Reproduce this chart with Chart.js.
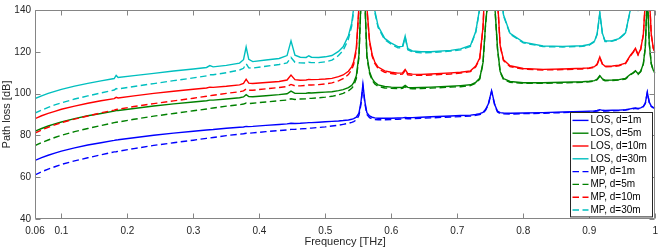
<!DOCTYPE html>
<html>
<head>
<meta charset="utf-8">
<script src="https://cdn.jsdelivr.net/npm/chart.js@4.4.1/dist/chart.umd.min.js"></script>
<style>
  html, body { margin: 0; padding: 0; background: #ffffff; }
  #wrap { width: 664px; height: 249px; }
</style>
</head>
<body>
<div id="wrap"><canvas id="chart" width="664" height="249"></canvas></div>
<script>
'use strict';

// frequency samples [THz], denser around the absorption lines
const FREQ = [
  0.06, 0.07, 0.08, 0.09, 0.10, 0.12, 0.14, 0.16, 0.18, 0.183,
  0.186, 0.21, 0.24, 0.27, 0.30, 0.32, 0.325, 0.33, 0.35, 0.37,
  0.376, 0.38, 0.384, 0.39, 0.41, 0.43, 0.442, 0.448, 0.454, 0.462,
  0.471, 0.475, 0.479, 0.49, 0.50, 0.51, 0.52, 0.527, 0.535, 0.54,
  0.543, 0.547, 0.551, 0.554, 0.557, 0.56, 0.563, 0.567, 0.571, 0.575,
  0.58, 0.59, 0.60, 0.61, 0.617, 0.621, 0.625, 0.632, 0.645, 0.66,
  0.69, 0.705, 0.72, 0.728, 0.734, 0.739, 0.743, 0.747, 0.752, 0.757,
  0.761, 0.765, 0.77, 0.78, 0.80, 0.83, 0.86, 0.89, 0.90, 0.908,
  0.912, 0.916, 0.92, 0.924, 0.935, 0.945, 0.955, 0.962, 0.967, 0.97,
  0.974, 0.978, 0.982, 0.985, 0.988, 0.991, 0.994, 0.997, 1.0
];

// path loss [dB], line of sight
const LOS_1M = [
  68.0, 69.4, 70.5, 71.5, 72.5, 74.0, 75.4, 76.5, 77.6, 77.8,
  77.9, 78.9, 80.1, 81.1, 82.0, 82.6, 82.7, 82.8, 83.4, 83.9,
  84.0, 84.3, 84.2, 84.3, 84.8, 85.2, 85.5, 85.8, 85.7, 85.8,
  86.0, 86.1, 86.1, 86.3, 86.5, 86.7, 86.9, 87.1, 87.4, 87.7,
  88.0, 88.7, 90.7, 95.9, 104.4, 96.0, 90.9, 89.3, 88.7, 88.4,
  88.2, 88.2, 88.2, 88.3, 88.4, 88.6, 88.5, 88.5, 88.7, 88.9,
  89.3, 89.5, 89.7, 90.0, 90.4, 91.0, 92.5, 95.0, 101.4, 94.5,
  91.6, 90.9, 90.7, 90.6, 90.7, 90.9, 91.2, 91.5, 91.6, 91.7,
  91.9, 92.3, 92.0, 91.9, 92.0, 92.1, 92.3, 92.7, 93.0, 93.1,
  92.9, 93.2, 93.9, 95.5, 100.7, 95.9, 94.0, 93.4, 93.2
];
const LOS_5M = [
  82.0, 83.3, 84.5, 85.5, 86.4, 88.0, 89.4, 90.5, 91.6, 91.9,
  91.9, 92.9, 94.1, 95.1, 96.0, 96.6, 96.9, 96.9, 97.4, 98.0,
  98.4, 99.5, 98.6, 98.5, 99.0, 99.5, 99.9, 101.2, 100.1, 100.1,
  100.2, 100.4, 100.3, 100.5, 100.7, 100.9, 101.4, 101.9, 102.9, 103.9,
  105.2, 108.5, 118.6, 144.1, 160, 144.4, 118.4, 110.5, 107.1, 105.4,
  104.2, 103.4, 103.1, 102.9, 103.0, 103.9, 103.0, 102.8, 102.9, 103.1,
  103.5, 103.8, 104.2, 105.4, 107.3, 114.8, 133.9, 146.4, 160, 141.5,
  121.6, 110.6, 107.2, 105.8, 105.2, 105.2, 105.4, 105.7, 105.9, 106.2,
  106.9, 108.6, 107.0, 106.4, 106.5, 106.7, 107.3, 109.1, 110.1, 110.9,
  109.5, 110.7, 114.3, 122.3, 147.8, 123.9, 114.4, 111.2, 109.9
];
const LOS_10M = [
  88.0, 89.4, 90.5, 91.5, 92.5, 94.0, 95.4, 96.6, 97.6, 98.2,
  97.9, 98.9, 100.1, 101.1, 102.1, 102.7, 103.1, 103.0, 103.5, 104.2,
  104.9, 106.9, 105.0, 104.8, 105.3, 105.8, 106.5, 108.9, 106.7, 106.4,
  106.5, 106.8, 106.7, 106.8, 107.0, 107.3, 108.1, 108.9, 110.7, 112.8,
  115.3, 121.8, 141.9, 160, 160, 160, 141.5, 125.5, 118.6, 115.1,
  112.7, 110.9, 110.2, 109.8, 109.9, 111.5, 109.6, 109.3, 109.2, 109.4,
  109.9, 110.2, 110.9, 113.2, 117.0, 131.8, 160, 160, 160, 160,
  145.1, 123.1, 116.2, 113.3, 112.0, 111.6, 111.8, 112.1, 112.3, 112.9,
  114.2, 117.5, 114.2, 113.1, 113.2, 113.6, 114.6, 118.1, 120.2, 121.7,
  118.7, 121.3, 128.3, 144.3, 160, 147.4, 128.4, 121.9, 119.5
];
const LOS_30M = [
  97.6, 98.9, 100.1, 101.1, 102.0, 103.6, 104.9, 106.1, 107.2, 108.7,
  107.7, 108.6, 109.7, 110.8, 111.8, 112.5, 113.4, 112.8, 113.5, 114.6,
  116.2, 122.3, 116.4, 115.3, 116.1, 116.8, 118.2, 125.2, 118.4, 117.4,
  117.3, 118.1, 117.4, 117.3, 117.6, 118.2, 120.2, 122.4, 127.7, 133.7,
  141.0, 160, 160, 160, 160, 160, 160, 160, 150.1, 139.7,
  132.3, 126.4, 124.1, 122.5, 122.6, 127.5, 121.5, 120.4, 120.0, 120.0,
  120.7, 121.4, 123.0, 129.7, 140.9, 160, 160, 160, 160, 160,
  160, 158.7, 137.7, 128.8, 124.6, 122.8, 122.6, 122.9, 123.5, 125.1,
  128.7, 138.6, 128.8, 125.2, 125.3, 126.3, 129.1, 139.7, 145.7, 150.2,
  141.3, 148.8, 160, 160, 160, 160, 160, 150.5, 143.0
];

// path loss [dB], multipath
const MP_1M = [
  61.1, 62.6, 63.9, 65.0, 66.1, 67.8, 69.3, 70.7, 72.1, 72.2,
  72.4, 73.7, 75.2, 76.5, 77.7, 78.6, 78.8, 79.0, 79.9, 80.6,
  80.8, 81.0, 81.0, 81.2, 81.8, 82.3, 82.6, 82.9, 82.9, 83.1,
  83.3, 83.5, 83.5, 83.8, 84.1, 84.5, 84.9, 85.3, 85.8, 86.2,
  86.6, 87.4, 89.6, 94.8, 103.4, 95.1, 90.0, 88.5, 87.9, 87.6,
  87.5, 87.5, 87.6, 87.7, 87.9, 88.1, 88.0, 88.0, 88.2, 88.4,
  88.8, 89.0, 89.3, 89.6, 90.0, 90.6, 92.1, 94.6, 101.0, 94.1,
  91.2, 90.5, 90.3, 90.2, 90.4, 90.6, 90.9, 91.2, 91.3, 91.5,
  91.6, 92.0, 91.7, 91.6, 91.8, 91.9, 92.1, 92.5, 92.7, 92.9,
  92.7, 93.0, 93.7, 95.3, 100.5, 95.7, 93.8, 93.2, 93.0
];
const MP_5M = [
  75.1, 76.6, 77.8, 79.0, 80.0, 81.8, 83.3, 84.7, 86.1, 86.3,
  86.4, 87.7, 89.2, 90.5, 91.8, 92.6, 92.9, 93.1, 94.0, 94.7,
  95.0, 95.5, 95.2, 95.4, 96.0, 96.6, 96.9, 97.5, 97.2, 97.4,
  97.5, 97.7, 97.7, 98.0, 98.3, 98.7, 99.4, 100.1, 101.3, 102.5,
  103.8, 107.2, 117.4, 143.1, 160, 143.4, 117.5, 109.7, 106.3, 104.6,
  103.5, 102.7, 102.5, 102.4, 102.5, 103.3, 102.4, 102.3, 102.4, 102.6,
  103.1, 103.3, 103.8, 105.0, 106.9, 114.4, 133.5, 146.0, 160, 141.1,
  121.2, 110.2, 106.8, 105.4, 104.9, 104.9, 105.1, 105.4, 105.6, 106.0,
  106.6, 108.3, 106.7, 106.1, 106.3, 106.5, 107.0, 108.9, 109.9, 110.7,
  109.2, 110.5, 114.1, 122.1, 147.6, 123.7, 114.2, 111.0, 109.7
];
const MP_10M = [
  81.1, 82.6, 83.9, 85.0, 86.1, 87.8, 89.3, 90.8, 92.1, 92.4,
  92.5, 93.8, 95.2, 96.5, 97.8, 98.7, 99.0, 99.2, 100.1, 100.9,
  101.3, 102.2, 101.6, 101.6, 102.3, 102.9, 103.4, 104.4, 103.7, 103.7,
  103.9, 104.1, 104.1, 104.3, 104.6, 105.1, 106.1, 107.1, 109.1, 111.4,
  113.9, 120.6, 140.7, 160, 160, 160, 140.6, 124.7, 117.8, 114.4,
  112.0, 110.2, 109.6, 109.2, 109.3, 111.0, 109.0, 108.7, 108.7, 108.9,
  109.4, 109.8, 110.5, 112.8, 116.6, 131.4, 160, 160, 160, 160,
  144.7, 122.7, 115.8, 112.9, 111.7, 111.3, 111.5, 111.8, 112.1, 112.6,
  113.9, 117.2, 114.0, 112.8, 112.9, 113.3, 114.3, 117.9, 119.9, 121.5,
  118.5, 121.1, 128.1, 144.1, 160, 147.2, 128.2, 121.7, 119.3
];
const MP_30M = [
  90.7, 92.1, 93.4, 94.6, 95.6, 97.4, 98.9, 100.3, 101.7, 102.4,
  102.2, 103.4, 104.8, 106.2, 107.5, 108.5, 109.0, 109.0, 110.0, 111.3,
  112.1, 114.3, 112.3, 112.2, 113.1, 113.9, 114.7, 117.3, 115.0, 114.7,
  114.6, 115.0, 114.8, 114.8, 115.2, 116.0, 118.2, 120.6, 126.1, 132.3,
  139.6, 159.3, 160, 160, 160, 160, 160, 160, 149.3, 138.9,
  131.6, 125.8, 123.6, 121.9, 122.0, 126.9, 121.0, 119.9, 119.5, 119.6,
  120.3, 120.9, 122.6, 129.3, 140.5, 160, 160, 160, 160, 160,
  160, 158.3, 137.3, 128.5, 124.3, 122.5, 122.3, 122.6, 123.2, 124.8,
  128.4, 138.4, 128.5, 124.9, 125.1, 126.1, 128.9, 139.4, 145.5, 150.0,
  141.1, 148.6, 160, 160, 160, 160, 160, 150.3, 142.8
];

const SERIES_LABELS = [
  'LOS, d=1m', 'LOS, d=5m', 'LOS, d=10m', 'LOS, d=30m',
  'MP, d=1m', 'MP, d=5m', 'MP, d=10m', 'MP, d=30m'
];
const SERIES_VALUES = [LOS_1M, LOS_5M, LOS_10M, LOS_30M, MP_1M, MP_5M, MP_10M, MP_30M];

const X_TICKS = [0.06, 0.1, 0.2, 0.3, 0.4, 0.5, 0.6, 0.7, 0.8, 0.9, 1];
const Y_TICKS = [40, 60, 80, 100, 120, 140];

// MATLAB-ish palette: b, g, r, c
const COLORS = ['#0000FF', '#008000', '#FF0000', '#00BFBF'];
const DASH = [6.5, 3.5];
const FONT = '"Liberation Sans", Arial, Helvetica, sans-serif';
const TEXT_COLOR = '#262626';
const AXIS_COLOR = '#858585';
const TICK_LEN = 5;

// box around the plot with inward ticks on all four sides
const axesBox = {
  id: 'axesBox',
  afterDatasetsDraw(chart) {
    const { ctx, chartArea, scales: { x, y } } = chart;
    const l = Math.round(chartArea.left) + 0.5;
    const r = Math.round(chartArea.right) - 0.5;
    const t = Math.round(chartArea.top) + 0.5;
    const b = Math.round(chartArea.bottom) - 0.5;

    ctx.save();
    ctx.strokeStyle = AXIS_COLOR;
    ctx.lineWidth = 1;
    ctx.beginPath();
    ctx.rect(l, t, r - l, b - t);
    X_TICKS.forEach(v => {
      const px = Math.round(x.getPixelForValue(v)) + 0.5;
      ctx.moveTo(px, b); ctx.lineTo(px, b - TICK_LEN);
      ctx.moveTo(px, t); ctx.lineTo(px, t + TICK_LEN);
    });
    Y_TICKS.forEach(v => {
      const py = Math.round(y.getPixelForValue(v)) + 0.5;
      ctx.moveTo(l, py); ctx.lineTo(l + TICK_LEN, py);
      ctx.moveTo(r, py); ctx.lineTo(r - TICK_LEN, py);
    });
    ctx.stroke();
    ctx.restore();
  },
};

// legend inset in the lower right corner of the plot
const insetLegend = {
  id: 'insetLegend',
  afterDraw(chart) {
    const { ctx, chartArea } = chart;
    const sets = chart.data.datasets;
    const rowH = 12.8;
    const w = 82;
    const h = rowH * sets.length + 2;
    const x0 = Math.round(chartArea.right - 3 - w) + 0.5;
    const y0 = Math.round(chartArea.bottom - 3 - h) + 0.5;

    ctx.save();
    ctx.fillStyle = '#ffffff';
    ctx.fillRect(x0, y0, w, h);
    ctx.strokeStyle = '#262626';
    ctx.lineWidth = 1;
    ctx.strokeRect(x0, y0, w, h);

    ctx.font = '10px ' + FONT;
    ctx.textBaseline = 'middle';
    ctx.textAlign = 'left';
    sets.forEach((ds, i) => {
      const cy = y0 + 1.5 + rowH * (i + 0.5);
      ctx.strokeStyle = ds.borderColor;
      ctx.lineWidth = ds.borderWidth;
      ctx.setLineDash(ds.borderDash || []);
      ctx.beginPath();
      ctx.moveTo(x0 + 2, cy);
      ctx.lineTo(x0 + 18, cy);
      ctx.stroke();
      ctx.setLineDash([]);
      ctx.fillStyle = '#000000';
      ctx.fillText(ds.label, x0 + 20, cy);
    });
    ctx.restore();
  },
};

const datasets = SERIES_LABELS.map((label, i) => ({
  label,
  data: FREQ.map((f, k) => ({ x: f, y: SERIES_VALUES[i][k] })),
  borderColor: COLORS[i % 4],
  borderWidth: 1.4,
  borderDash: i >= 4 ? DASH : [],
  pointRadius: 0,
  tension: 0,
  fill: false,
  order: SERIES_LABELS.length - i,
}));

new Chart(document.getElementById('chart'), {
  type: 'line',
  data: { datasets },
  plugins: [axesBox, insetLegend],
  options: {
    responsive: false,
    animation: false,
    events: [],
    layout: { padding: { top: 6, right: 4, left: 0, bottom: 0 } },
    plugins: {
      legend: { display: false },
      tooltip: { enabled: false },
    },
    scales: {
      x: {
        type: 'linear',
        min: 0.06,
        max: 1,
        afterBuildTicks(axis) { axis.ticks = X_TICKS.map(v => ({ value: v })); },
        afterFit(axis) { axis.height = 30; },
        grid: { display: false, drawTicks: false },
        border: { display: false },
        ticks: {
          autoSkip: false,
          maxRotation: 0,
          padding: 6,
          color: TEXT_COLOR,
          font: { family: FONT, size: 10 },
          callback: v => String(v),
        },
        title: {
          display: true,
          text: 'Frequency [THz]',
          color: TEXT_COLOR,
          font: { family: FONT, size: 11 },
          padding: 0,
        },
      },
      y: {
        type: 'linear',
        min: 40,
        max: 140,
        afterBuildTicks(axis) { axis.ticks = Y_TICKS.map(v => ({ value: v })); },
        afterFit(axis) { axis.width = 35; },
        grid: { display: false, drawTicks: false },
        border: { display: false },
        ticks: {
          padding: 4,
          color: TEXT_COLOR,
          font: { family: FONT, size: 10 },
        },
        title: {
          display: true,
          text: 'Path loss [dB]',
          color: TEXT_COLOR,
          font: { family: FONT, size: 11 },
          padding: { top: 0, bottom: 0 },
        },
      },
    },
  },
});
</script>
</body>
</html>
